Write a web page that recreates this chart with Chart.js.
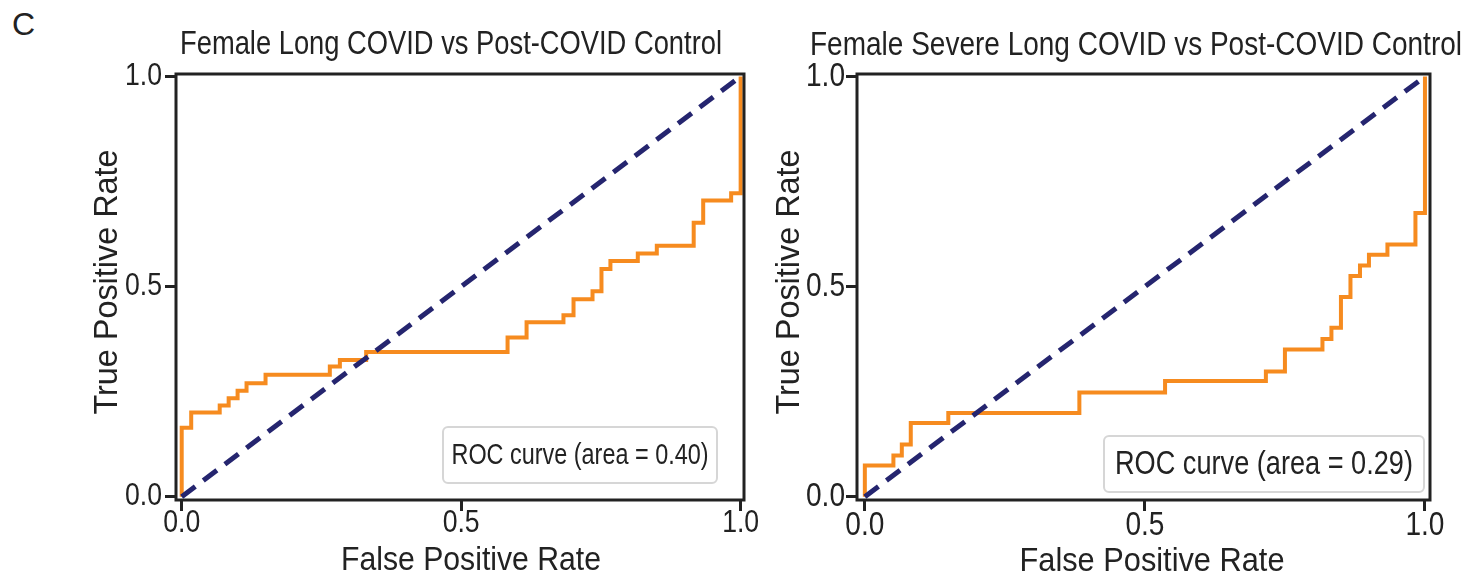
<!DOCTYPE html>
<html>
<head>
<meta charset="utf-8">
<script src="https://cdn.jsdelivr.net/npm/chart.js@4.4.1/dist/chart.umd.min.js"></script>
<style>
  body { margin: 0; background: #fff; width: 1481px; height: 582px; overflow: hidden; position: relative; }
  canvas { position: absolute; top: 0; }
  #panel { position: absolute; left: 12px; top: 6px; font: 32px 'Liberation Sans', Arial, sans-serif; color: #222; }
</style>
</head>
<body>
<div id="panel">C</div>
<canvas id="rocLong" width="770" height="582" style="left:0"></canvas>
<canvas id="rocSevere" width="721" height="582" style="left:760px"></canvas>
<script>
// ROC values
const tickValues = [0.0, 0.5, 1.0];
const chanceFpr = [0, 1];
const chanceTpr = [0, 1];

const longFpr = [0, 0, 0.017, 0.017, 0.068, 0.068, 0.084, 0.084, 0.1, 0.1, 0.116, 0.116, 0.15, 0.15,
    0.265, 0.265, 0.283, 0.283, 0.33, 0.33, 0.583, 0.583, 0.617, 0.617, 0.683, 0.683, 0.701, 0.701,
    0.735, 0.735, 0.751, 0.751, 0.767, 0.767, 0.816, 0.816, 0.85, 0.85, 0.916, 0.916, 0.933, 0.933,
    0.983, 0.983, 1, 1];
const longTpr = [0, 0.164, 0.164, 0.2, 0.2, 0.217, 0.217, 0.234, 0.234, 0.252, 0.252, 0.27, 0.27, 0.29,
    0.29, 0.31, 0.31, 0.325, 0.325, 0.344, 0.344, 0.379, 0.379, 0.415, 0.415, 0.432, 0.432, 0.47,
    0.47, 0.489, 0.489, 0.542, 0.542, 0.561, 0.561, 0.579, 0.579, 0.597, 0.597, 0.652, 0.652, 0.705,
    0.705, 0.722, 0.722, 1];
const longAuc = 0.40;

const severeFpr = [0, 0, 0.051, 0.051, 0.066, 0.066, 0.082, 0.082, 0.149, 0.149, 0.383, 0.383,
    0.536, 0.536, 0.716, 0.716, 0.75, 0.75, 0.817, 0.817, 0.833, 0.833, 0.85, 0.85, 0.867, 0.867,
    0.884, 0.884, 0.9, 0.9, 0.933, 0.933, 0.983, 0.983, 1, 1];
const severeTpr = [0, 0.074, 0.074, 0.098, 0.098, 0.124, 0.124, 0.175, 0.175, 0.199, 0.199, 0.248,
    0.248, 0.275, 0.275, 0.298, 0.298, 0.35, 0.35, 0.375, 0.375, 0.402, 0.402, 0.475, 0.475, 0.525,
    0.525, 0.55, 0.55, 0.576, 0.576, 0.6, 0.6, 0.675, 0.675, 1];
const severeAuc = 0.29;

const fontFamily = "'Liberation Sans', Arial, sans-serif";
const ink = '#222222';
Chart.defaults.font.family = fontFamily;
Chart.defaults.color = ink;

function toPoints(xs, ys) {
    return xs.map((x, i) => ({x: x, y: ys[i]}));
}

// the figure uses a condensed face, so squeeze text into the width it has there
function squeezedText(ctx, text, x, y, size, width, align, angle) {
    ctx.save();
    ctx.translate(x, y);
    if (angle) ctx.rotate(angle);
    ctx.font = size + 'px ' + fontFamily;
    ctx.fillStyle = ink;
    ctx.textAlign = align || 'center';
    ctx.textBaseline = 'middle';
    ctx.fillText(text, 0, 0, width);
    ctx.restore();
}

// box around the whole plot area (matplotlib style spines)
const frame = {
    id: 'frame',
    afterDatasetsDraw(chart) {
        const {ctx, chartArea: a} = chart;
        ctx.save();
        ctx.strokeStyle = ink;
        ctx.lineWidth = 3;
        ctx.strokeRect(a.left, a.top, a.right - a.left, a.bottom - a.top);
        ctx.restore();
    }
};

// titles and tick labels
const texts = {
    id: 'texts',
    afterDraw(chart, args, o) {
        const {ctx, scales} = chart;
        squeezedText(ctx, o.title.text, o.title.x, o.title.y, o.title.size, o.title.width);
        squeezedText(ctx, 'False Positive Rate', o.xTitle.x, o.xTitle.y, o.xTitle.size, o.xTitle.width);
        squeezedText(ctx, 'True Positive Rate', o.yTitle.x, o.yTitle.y, o.yTitle.size, o.yTitle.width,
            'center', -Math.PI / 2);
        tickValues.forEach((v) => {
            const label = v.toFixed(1);
            squeezedText(ctx, label, scales.x.getPixelForValue(v), o.xTickY, o.tickSize, o.tickWidth);
            squeezedText(ctx, label, o.yTickRight, scales.y.getPixelForValue(v), o.tickSize, o.tickWidth, 'right');
        });
    }
};

// legend in the lower right corner, text only
const legendBox = {
    id: 'legendBox',
    afterDraw(chart, args, o) {
        const {ctx, chartArea: a} = chart;
        const w = o.textWidth + 2 * o.padX;
        const x = a.right - o.right - w;
        const y = a.bottom - o.bottom - o.height;
        ctx.save();
        ctx.beginPath();
        ctx.roundRect(x, y, w, o.height, 5);
        ctx.fillStyle = 'rgba(255,255,255,0.8)';
        ctx.fill();
        ctx.strokeStyle = '#d6d6d6';
        ctx.lineWidth = 2;
        ctx.stroke();
        ctx.restore();
        squeezedText(ctx, chart.data.datasets[0].label, x + o.padX, y + o.height / 2 + 1, o.size, o.textWidth, 'left');
    }
};

function rocChart(id, s) {
    const axis = (min, max, fit) => ({
        type: 'linear',
        min: min,
        max: max,
        afterBuildTicks: (scale) => { scale.ticks = tickValues.map(v => ({value: v})); },
        afterFit: fit,
        ticks: {display: false},
        grid: {drawOnChartArea: false, drawTicks: true, tickLength: 11, tickWidth: 3, tickColor: ink},
        border: {display: false}
    });

    return new Chart(document.getElementById(id), {
        type: 'line',
        data: {
            datasets: [{
                label: 'ROC curve (area = ' + s.auc.toFixed(2) + ')',
                data: toPoints(s.fpr, s.tpr),
                borderColor: '#f68b1f',
                borderWidth: 4,
                pointRadius: 0,
                order: 1
            }, {
                label: 'chance',
                data: toPoints(chanceFpr, chanceTpr),
                borderColor: '#25256f',
                borderWidth: 5,
                borderDash: [17, 10],
                pointRadius: 0,
                order: 0
            }]
        },
        options: {
            responsive: false,
            animation: false,
            devicePixelRatio: 1,
            layout: {padding: {left: 0, right: s.right, top: 74, bottom: 0}},
            scales: {
                x: axis(s.xMin, s.xMax, (scale) => { scale.height = 82; }),
                y: axis(s.yMin, s.yMax, (scale) => { scale.width = s.left; })
            },
            plugins: {
                legend: {display: false},
                tooltip: {enabled: false},
                title: {display: false},
                texts: s.texts,
                legendBox: s.legend
            }
        },
        plugins: [frame, texts, legendBox]
    });
}

rocChart('rocLong', {
    fpr: longFpr, tpr: longTpr, auc: longAuc,
    xMin: -0.0102, xMax: 1.006, yMin: -0.008, yMax: 1.006,
    left: 176, right: 770 - 744,
    texts: {
        title: {text: 'Female Long COVID vs Post-COVID Control', x: 451, y: 45, size: 33, width: 542},
        xTitle: {x: 471, y: 561, size: 34, width: 260},
        yTitle: {x: 108, y: 282, size: 34, width: 265},
        tickSize: 31, tickWidth: 37, xTickY: 523, yTickRight: 162
    },
    legend: {size: 30, textWidth: 257, padX: 8.5, height: 56, right: 27, bottom: 17}
});

rocChart('rocSevere', {
    fpr: severeFpr, tpr: severeTpr, auc: severeAuc,
    xMin: -0.014, xMax: 1.009, yMin: -0.008, yMax: 1.006,
    left: 97, right: 721 - 670,
    texts: {
        title: {text: 'Female Severe Long COVID vs Post-COVID Control', x: 376, y: 46, size: 34, width: 652},
        xTitle: {x: 392, y: 562, size: 34, width: 265},
        yTitle: {x: 30, y: 282, size: 34, width: 265},
        tickSize: 33, tickWidth: 39, xTickY: 526, yTickRight: 85
    },
    legend: {size: 33, textWidth: 298, padX: 11, height: 56, right: 6, bottom: 8}
});
</script>
</body>
</html>
